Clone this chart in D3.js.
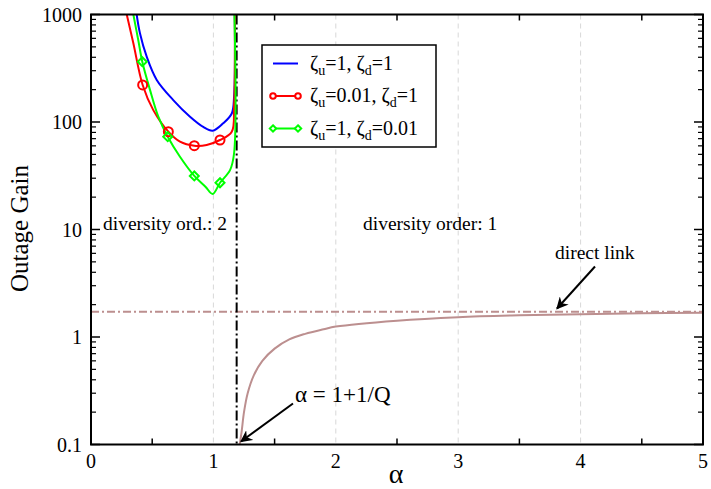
<!DOCTYPE html>
<html>
<head>
<meta charset="utf-8">
<script src="https://cdn.jsdelivr.net/npm/d3@7"></script>
<style>
  body { margin: 0; background: #fff; }
  svg text { font-family: "Liberation Serif", "DejaVu Serif", "Times New Roman", Times, serif; }
</style>
</head>
<body>
<svg id="chart" width="711" height="489"></svg>
<script>
// alpha values and outage gain
const blueAlpha = [0.373, 0.40, 0.455, 0.537, 0.672, 0.809, 0.917, 0.994, 1.08, 1.15, 1.169, 1.175]
const blueGain  = [1000, 668, 405, 246, 160, 112, 90, 83, 97.3, 120, 172, 1000]

const redAlpha = [0.292, 0.346, 0.422, 0.509, 0.632, 0.727, 0.844, 0.945, 1.054, 1.15, 1.169, 1.175]
const redGain  = [1000, 540, 221, 129, 81.3, 65.6, 60.2, 61.2, 68, 81.3, 139, 1000]
const redMarkAlpha = [0.422, 0.632, 0.844, 1.054]
const redMarkGain  = [221, 81.3, 60.2, 68]

const greenAlpha = [0.346, 0.386, 0.419, 0.482, 0.55, 0.627, 0.727, 0.844, 0.935, 0.994, 1.054, 1.136, 1.169, 1.172]
const greenGain  = [1000, 579, 364, 199, 112, 73, 47.5, 31.5, 25, 21.4, 27.2, 35.7, 51.2, 1000]
const greenMarkAlpha = [0.419, 0.627, 0.844, 1.054]
const greenMarkGain  = [364, 73, 31.5, 27.2]

const relayAlpha = [1.215, 1.23, 1.25, 1.28, 1.33, 1.4, 1.5, 1.62, 1.75, 1.9, 2.0, 2.5, 3.0, 3.5, 4.0, 4.5, 5.0]
const relayGain  = [0.1, 0.13, 0.2, 0.3, 0.44, 0.6, 0.78, 0.95, 1.07, 1.18, 1.25, 1.42, 1.53, 1.59, 1.63, 1.66, 1.68]

const directGain = 1.72
const thresholdAlpha = 1.19

const xTicks = [0, 1, 2, 3, 4, 5]
const yTicks = [0.1, 1, 10, 100, 1000]
const gridAlpha = [1, 2, 3, 4]

const svg = d3.select('#chart')
const margin = {top: 14.5, right: 8, bottom: 44.5, left: 91}
const W = 711 - margin.left - margin.right
const H = 489 - margin.top - margin.bottom

const x = d3.scaleLinear().domain([0, 5]).range([0, W])
const y = d3.scaleLog().domain([0.1, 1000]).range([H, 0])

const g = svg.append('g').attr('transform', `translate(${margin.left},${margin.top})`)

g.append('clipPath').attr('id', 'clip')
  .append('rect').attr('width', W).attr('height', H)

// dashed grid at integer alpha
g.selectAll('.grid').data(gridAlpha).enter().append('line')
  .attr('x1', d => x(d)).attr('x2', d => x(d))
  .attr('y1', 0).attr('y2', H)
  .attr('stroke', '#d8d8d8').attr('stroke-width', 1)
  .attr('stroke-dasharray', '5,4')

const plot = g.append('g').attr('clip-path', 'url(#clip)')

const line = d3.line().x(d => x(d[0])).y(d => y(d[1])).curve(d3.curveCatmullRom.alpha(0.5))
const zipped = (a, b) => a.map((v, i) => [v, b[i]])

// direct link
plot.append('line')
  .attr('x1', 0).attr('x2', W)
  .attr('y1', y(directGain)).attr('y2', y(directGain))
  .attr('stroke', '#bc8f8f').attr('stroke-width', 2)
  .attr('stroke-dasharray', '8,3,2,3')

plot.append('path').datum(zipped(relayAlpha, relayGain))
  .attr('d', line).attr('fill', 'none')
  .attr('stroke', '#bc8f8f').attr('stroke-width', 2)

// threshold line
plot.append('line')
  .attr('x1', x(thresholdAlpha)).attr('x2', x(thresholdAlpha))
  .attr('y1', 0).attr('y2', H)
  .attr('stroke', '#000').attr('stroke-width', 2)
  .attr('stroke-dasharray', '10,3,2,3')

const series = [
  {a: blueAlpha, v: blueGain, color: '#0000ff'},
  {a: redAlpha, v: redGain, color: '#ff0000'},
  {a: greenAlpha, v: greenGain, color: '#00ff00'}
]
series.forEach(s => {
  plot.append('path').datum(zipped(s.a, s.v))
    .attr('d', line).attr('fill', 'none')
    .attr('stroke', s.color).attr('stroke-width', 2)
})

plot.selectAll('.circ').data(zipped(redMarkAlpha, redMarkGain)).enter().append('circle')
  .attr('cx', d => x(d[0])).attr('cy', d => y(d[1])).attr('r', 4.5)
  .attr('fill', 'none').attr('stroke', '#ff0000').attr('stroke-width', 2)

const diamond = (cx, cy, r) => `M${cx},${cy - r}L${cx + r},${cy}L${cx},${cy + r}L${cx - r},${cy}Z`
plot.selectAll('.diam').data(zipped(greenMarkAlpha, greenMarkGain)).enter().append('path')
  .attr('d', d => diamond(x(d[0]), y(d[1]), 4.5))
  .attr('fill', 'none').attr('stroke', '#00ff00').attr('stroke-width', 2)

// frame and ticks
g.append('rect').attr('width', W).attr('height', H)
  .attr('fill', 'none').attr('stroke', '#000').attr('stroke-width', 2)

const halfTicks = d3.range(0.5, 5, 1)
halfTicks.forEach(t => {
  g.append('line').attr('x1', x(t)).attr('x2', x(t)).attr('y1', H).attr('y2', H - 6)
    .attr('stroke', '#000').attr('stroke-width', 1.5)
  g.append('line').attr('x1', x(t)).attr('x2', x(t)).attr('y1', 0).attr('y2', 6)
    .attr('stroke', '#000').attr('stroke-width', 1.5)
})

const minorY = []
yTicks.slice(0, -1).forEach(t => { for (let k = 2; k <= 9; k++) minorY.push(t * k) })
minorY.forEach(t => {
  g.append('line').attr('x1', 0).attr('x2', 5).attr('y1', y(t)).attr('y2', y(t))
    .attr('stroke', '#000').attr('stroke-width', 1.2)
  g.append('line').attr('x1', W).attr('x2', W - 5).attr('y1', y(t)).attr('y2', y(t))
    .attr('stroke', '#000').attr('stroke-width', 1.2)
})
yTicks.forEach(t => {
  g.append('line').attr('x1', 0).attr('x2', 9).attr('y1', y(t)).attr('y2', y(t))
    .attr('stroke', '#000').attr('stroke-width', 1.5)
  g.append('line').attr('x1', W).attr('x2', W - 9).attr('y1', y(t)).attr('y2', y(t))
    .attr('stroke', '#000').attr('stroke-width', 1.5)
})

g.selectAll('.ylab').data(yTicks).enter().append('text')
  .attr('x', -9).attr('y', d => y(d) + 7)
  .attr('text-anchor', 'end').attr('font-size', 20)
  .text(d => d >= 1 ? d3.format('d')(d) : '0.1')

g.selectAll('.xlab').data(xTicks).enter().append('text')
  .attr('x', d => x(d)).attr('y', H + 23)
  .attr('text-anchor', 'middle').attr('font-size', 20)
  .text(d => d)

svg.append('text')
  .attr('transform', `translate(28,${margin.top + H / 2 - 1}) rotate(-90)`)
  .attr('text-anchor', 'middle').attr('font-size', 25)
  .text('Outage Gain')

svg.append('text')
  .attr('x', margin.left + W / 2 - 1).attr('y', 483)
  .attr('text-anchor', 'middle').attr('font-size', 28)
  .text('α')

// annotations
g.append('text').attr('x', 12).attr('y', 215).attr('font-size', 19.5).text('diversity ord.: 2')
g.append('text').attr('x', 272).attr('y', 215).attr('font-size', 19.5).text('diversity order: 1')
g.append('text').attr('x', 464).attr('y', 244).attr('font-size', 19.5).text('direct link')
g.append('text').attr('x', 204).attr('y', 387).attr('font-size', 23).text('α = 1+1/Q')

const defs = svg.append('defs')
defs.append('marker').attr('id', 'arrow').attr('viewBox', '0 0 10 10')
  .attr('refX', 9).attr('refY', 5).attr('markerWidth', 6).attr('markerHeight', 6)
  .attr('orient', 'auto-start-reverse').attr('markerUnits', 'strokeWidth')
  .append('path').attr('d', 'M0,0L10,5L0,10L3,5Z').attr('fill', '#000')

g.append('line').attr('x1', 504).attr('y1', 252).attr('x2', 466).attr('y2', 294)
  .attr('stroke', '#000').attr('stroke-width', 2).attr('marker-end', 'url(#arrow)')
g.append('line').attr('x1', 202).attr('y1', 389).attr('x2', 150).attr('y2', 427)
  .attr('stroke', '#000').attr('stroke-width', 2).attr('marker-end', 'url(#arrow)')

// legend
const leg = svg.append('g').attr('transform', 'translate(262,45)')
leg.append('rect').attr('width', 174).attr('height', 102)
  .attr('fill', '#fff').attr('stroke', '#000').attr('stroke-width', 1.5)

const legendRows = [
  {color: '#0000ff', mark: null, u: '1', d: '1'},
  {color: '#ff0000', mark: 'circle', u: '0.01', d: '1'},
  {color: '#00ff00', mark: 'diamond', u: '1', d: '0.01'}
]
legendRows.forEach((r, i) => {
  const ry = 18.5 + i * 32.5
  leg.append('line').attr('x1', 11).attr('x2', 36).attr('y1', ry).attr('y2', ry)
    .attr('stroke', r.color).attr('stroke-width', 2)
  ;[11, 36].forEach(mx => {
    if (r.mark === 'circle') {
      leg.append('circle').attr('cx', mx).attr('cy', ry).attr('r', 2.8)
        .attr('fill', '#fff').attr('stroke', r.color).attr('stroke-width', 2)
    } else if (r.mark === 'diamond') {
      leg.append('path').attr('d', diamond(mx, ry, 3.2))
        .attr('fill', '#fff').attr('stroke', r.color).attr('stroke-width', 2)
    }
  })
  const t = leg.append('text').attr('x', 48).attr('y', ry + 6).attr('font-size', 20)
  t.append('tspan').text('ζ')
  t.append('tspan').attr('font-size', 14).attr('dy', 5).text('u')
  t.append('tspan').attr('dy', -5).text(`=${r.u}, ζ`)
  t.append('tspan').attr('font-size', 14).attr('dy', 5).text('d')
  t.append('tspan').attr('dy', -5).text(`=${r.d}`)
})
</script>
</body>
</html>
